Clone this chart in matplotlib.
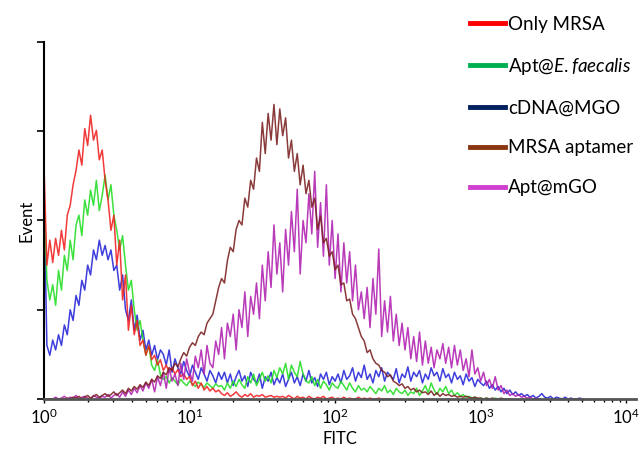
"""Flow cytometry FITC histograms: MRSA aptamer binding overlay."""

import matplotlib
matplotlib.use("Agg")
import matplotlib.pyplot as plt
from matplotlib.lines import Line2D
from matplotlib.ticker import LogLocator, NullFormatter
import numpy as np

FONT = "Lato"
plt.rcParams["font.family"] = [FONT, "DejaVu Sans"]
plt.rcParams["mathtext.fontset"] = "custom"
plt.rcParams["mathtext.rm"] = FONT
plt.rcParams["mathtext.it"] = f"{FONT}:italic"

# histogram channel width in decades (log10 FITC)
CHANNEL_STEP = 0.02

only_mrsa = [262, 150, 178, 153, 180, 161, 189, 167, 206, 217, 240, 256, 279, 262, 303, 284,
             318, 290, 301, 268, 279, 245, 223, 189, 206, 150, 178, 111, 139, 77, 105, 72,
             88, 60, 66, 49, 60, 44, 49, 38, 44,
             32, 38, 30, 35, 28, 33, 25, 28, 22, 25,
             15, 20, 12, 18, 10, 14, 9, 12, 8, 10,
             6, 4, 7, 3, 5, 8, 4, 2, 5, 3, 6, 2, 4, 3, 5, 2, 3, 4, 2, 3,
             2, 3, 1, 4, 2, 0, 3, 1, 2, 0, 3, 1, 0, 2, 1, 3, 0, 1, 2, 0,
             1, 0, 2, 0, 1, 0, 0, 2, 0, 1, 0, 1, 0, 0, 1, 0, 0, 0, 0, 0]

apt_efaecalis = [228, 133, 111, 128, 105, 144, 122, 161, 144, 178, 156, 195, 206, 183, 223, 206,
                 234, 217, 245, 211, 228, 251, 223, 240, 206, 189, 167, 183, 150, 122, 133, 100,
                 77, 88, 66, 49, 60, 38, 32, 44, 27,
                 22, 25, 18, 24, 20, 16, 22, 18, 15, 20, 17, 14, 19, 16, 13, 18, 15, 12, 17, 14,
                 15, 10, 18, 12, 20, 14, 22, 16, 12, 25, 18, 28, 15, 22, 30, 20, 26, 18, 32, 24,
                 35, 28, 40, 22, 38, 30, 25, 42, 28, 20,
                 18, 25, 15, 22, 12, 20, 16, 10, 18, 14, 12, 20, 15, 10, 18, 12, 8, 15, 10, 12,
                 8, 14, 10, 6, 12, 9, 15, 7, 10, 5, 12, 8, 6, 10, 4, 8,
                 6, 12, 4, 9, 15, 7, 18, 10, 5, 12, 8, 14, 6, 10, 4, 7, 3, 5, 2, 3,
                 1, 2, 0, 1, 0, 1, 0, 0, 1, 0]

cdna_mgo = [226, 60, 49, 66, 55, 72, 60, 83, 72, 100, 88, 116, 105, 133, 122, 150,
            139, 167, 156, 178, 161, 172, 156, 167, 144, 150, 122, 139, 100, 88, 111, 77,
            94, 66, 77, 55, 66, 49, 60, 44, 55,
            50, 38, 55, 30, 45, 35, 28, 42, 32, 25, 38, 30, 22, 35, 28, 20, 32, 26, 18, 30,
            22, 30, 18, 28, 15, 25, 32, 20, 26, 14, 30, 22, 18, 28, 12, 25, 20, 30, 16, 24,
            18, 28, 14, 22, 30, 18, 25, 15, 28, 20, 32, 18, 24, 14, 28, 22, 30, 16, 25, 20,
            28, 18, 32, 22, 26, 35, 20, 30, 24, 38, 22, 28, 18, 32, 25, 35, 20, 30, 26, 22,
            34, 18, 28, 24, 36, 20, 30, 25, 32, 18, 28, 22, 35, 26, 30, 20, 34, 24, 28, 18,
            30, 22, 26, 16, 28, 20, 24, 14, 22, 18,
            15, 20, 12, 16, 10, 14, 8, 12, 6, 10, 5, 8, 4, 6, 3,
            5, 2, 4, 1, 3, 6, 2, 1, 3, 0, 2, 1, 0, 2, 0, 1, 0, 0, 1, 0]

mrsa_aptamer = [0, 0, 0, 0, 0, 0, 0, 0, 1, 0, 2,
                1, 3, 0, 2, 4, 1, 3, 5, 2, 4, 6, 3, 5, 8, 4,
                7, 10, 6, 12, 9, 14, 11, 16, 13, 19,
                15, 22, 19, 26, 23, 30, 27, 35, 32,
                40, 36, 45, 52, 48, 58, 63, 60, 70, 75, 72, 85, 90, 95, 110,
                125, 135, 130, 155, 170, 165, 190, 200, 195, 225, 215, 245, 235, 270, 255,
                310, 275, 320, 290, 330, 285, 325, 295, 315, 270, 290, 255, 275, 240, 262,
                230, 245, 215, 225, 190, 205, 175, 180, 160, 165, 145, 150, 128, 130, 110,
                112, 95, 90, 80, 70, 65, 52, 55, 45, 40, 38, 32, 30, 25, 27, 20,
                18, 15, 17, 12, 14, 10, 12, 8, 10, 7,
                8, 5, 9, 4, 7, 3, 6, 4, 5, 3, 4, 2, 3, 2, 3,
                2, 1, 2, 1, 1, 0, 1, 0, 1, 0, 0, 1, 0, 0, 0]

apt_mgo = [0, 0, 0, 0, 2, 0, 1, 3, 0, 2, 1, 4, 0, 2, 3, 1, 0, 4, 2, 1, 3,
           2, 5, 1, 4, 6, 2, 8, 3, 10, 5, 12, 7, 15, 9, 18,
           12, 22, 8, 25, 15, 30, 12, 35, 20, 28, 15, 40, 22, 45, 30, 20, 48, 35, 55, 28,
           60, 40, 35, 65, 50, 80, 45, 85, 70, 95, 55, 100, 80, 120, 70, 115, 95, 130, 90,
           150, 110, 165, 125, 195, 140, 175, 120, 190, 150, 210, 165, 235, 140, 200, 175,
           230, 185, 255, 170, 220, 160, 240, 150, 200, 135, 185, 120, 175, 130, 165, 110,
           150, 100, 120, 90, 125, 80, 135, 95, 168, 70, 110, 75, 115, 65, 95, 60, 85, 55,
           80, 45, 70, 42, 75, 38, 65, 40, 58, 35, 55, 45, 62, 40, 58, 35, 60, 38, 55, 32,
           45, 25, 55, 28, 35, 20, 30, 15, 22, 12, 25, 10, 15, 6, 10, 4,
           6, 3, 5, 2, 3, 1, 2, 0, 1, 0]

labels = ["Only MRSA", r"Apt@$\it{E.faecalis}$", "cDNA@MGO", "MRSA aptamer", "Apt@mGO"]
line_colors = ["#f02020", "#22dd22", "#2323d8", "#7a1f1f", "#b020b0"]
legend_colors = ["#ff0000", "#00b050", "#002060", "#8b3510", "#d040d0"]

series = [cdna_mgo, apt_efaecalis, only_mrsa, apt_mgo, mrsa_aptamer]
series_colors = [line_colors[2], line_colors[1], line_colors[0], line_colors[4], line_colors[3]]

fig = plt.figure(figsize=(6.44, 4.51), dpi=100)
ax = fig.add_axes([0.0683, 0.1153, 0.919, 0.7916])

for vals, col in zip(series, series_colors):
    y = np.array(vals, dtype=float)
    x = 10 ** (np.arange(len(y)) * CHANNEL_STEP)
    ax.plot(x, y, color=col, lw=1.1, alpha=0.88)

ax.set_xscale("log")
ax.set_xlim(1, 10 ** 4.066)
ax.set_ylim(0, 400)
ax.set_yticks([0, 100, 200, 300, 400])
ax.set_yticklabels([])
ax.xaxis.set_major_locator(LogLocator(base=10, numticks=10))
ax.xaxis.set_minor_locator(LogLocator(base=10, subs=np.arange(2, 10), numticks=50))
ax.xaxis.set_minor_formatter(NullFormatter())

for side in ("top", "right"):
    ax.spines[side].set_visible(False)
ax.spines["left"].set_linewidth(1.5)
ax.spines["bottom"].set_linewidth(2.0)
ax.spines["bottom"].set_color("#555555")

ax.tick_params(axis="y", direction="out", length=5, width=1.2)
ax.tick_params(axis="x", which="major", direction="out", length=3, width=1.0,
               labelsize=12, pad=3)
ax.tick_params(axis="x", which="minor", direction="out", length=2.5, width=1.0)

ax.set_xlabel("FITC", fontsize=12, labelpad=3)
ax.set_ylabel("Event", fontsize=12, labelpad=-2)

handles = [Line2D([], [], color=c, lw=3.5) for c in legend_colors]
fig.legend(handles, labels, loc="upper left", bbox_to_anchor=(0.713, 0.99),
           frameon=False, fontsize=13.5, handlelength=1.85, handletextpad=0.15,
           labelspacing=1.22, borderaxespad=0.2)

fig.savefig("out.png", dpi=100)
